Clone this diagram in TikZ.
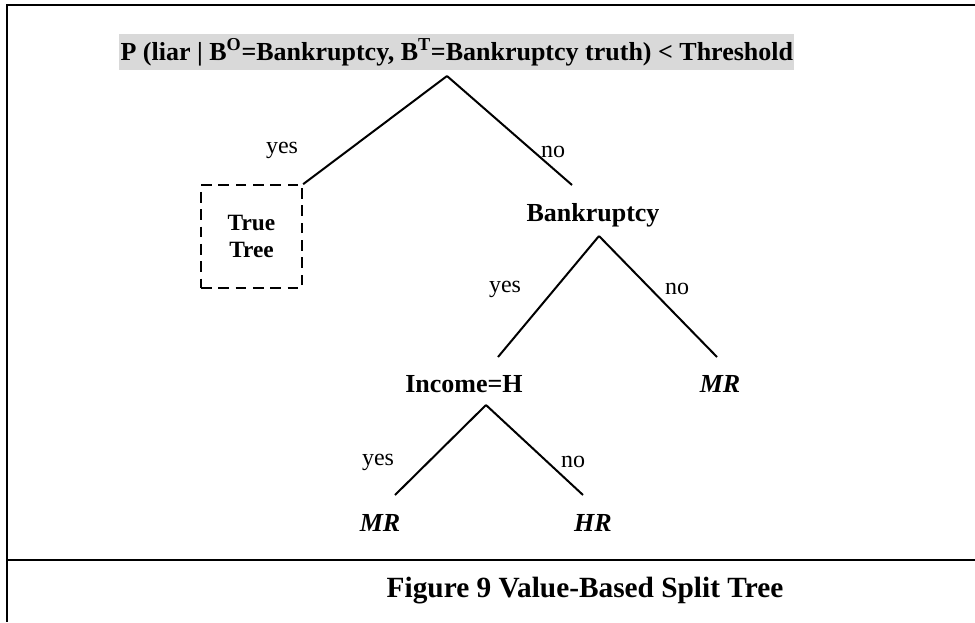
\documentclass[tikz,border=0pt]{standalone}
\usepackage{fontspec}
\setmainfont{Liberation Serif}
\begin{document}
\begin{tikzpicture}[x=0.75pt,y=-0.75pt,
  lbl/.style={font=\fontsize{18}{20}\selectfont, inner sep=0pt},
  bnode/.style={font=\fontsize{19.5}{22}\selectfont\bfseries, inner sep=0pt},
  leaf/.style={font=\fontsize{19.5}{22}\selectfont\bfseries\itshape, inner sep=0pt},
  edge/.style={line width=1.5pt},
  frame/.style={line width=2pt}]
\useasboundingbox (0,0) rectangle (975,622);
% frame
\coordinate (ftl) at (7,5);
\coordinate (ftr) at (975,5);
\coordinate (fbl) at (7,622);
\coordinate (fml) at (7,560);
\coordinate (fmr) at (975,560);
\draw[frame] (ftr) -- (ftl) -- (fbl);
\draw[frame] (fml) -- (fmr);
% title
\node[fill=black!15, font=\fontsize{19.5}{22}\selectfont\bfseries, inner xsep=1pt, inner ysep=3pt, anchor=west] (root) at (119,52)
  {P (liar | B\textsuperscript{O}=Bankruptcy, B\textsuperscript{T}=Bankruptcy truth) < Threshold};
\coordinate (r0) at (447,76);
\coordinate (r1) at (572,185);
% true tree
\node[draw, line width=1.5pt, dash pattern=on 8pt off 5pt, minimum width=76pt, minimum height=77pt, inner sep=0pt,
  align=center, font=\fontsize{17.5}{20.5}\selectfont\bfseries] (tt) at (251.5,236.5) {True\\Tree};
\draw[edge] (r0) -- (tt.north east);
\draw[edge] (r0) -- (r1);
\node[lbl] (y1) at (282,150) {yes};
\node[lbl] (n1) at (553,152) {no};
% Bankruptcy
\node[bnode] (bk) at (593,215) {Bankruptcy};
\coordinate (b0) at (599,236);
\coordinate (b1) at (498,357);
\coordinate (b2) at (717,357);
\draw[edge] (b0) -- (b1);
\draw[edge] (b0) -- (b2);
\node[lbl] (y2) at (505,289) {yes};
\node[lbl] (n2) at (677,289) {no};
\node[leaf] (mr1) at (720,384) {MR};
% Income
\node[bnode] (inc) at (464,384) {Income=H};
\coordinate (i0) at (486,405);
\coordinate (i1) at (395,495);
\coordinate (i2) at (583,495);
\draw[edge] (i0) -- (i1);
\draw[edge] (i0) -- (i2);
\node[lbl] (y3) at (378,462) {yes};
\node[lbl] (n3) at (573,462) {no};
\node[leaf] (mr2) at (380,523) {MR};
\node[leaf] (hr) at (593,523) {HR};
% caption
\node[font=\fontsize{22}{25}\selectfont\bfseries, inner sep=0pt] (cap) at (585,591) {Figure 9 Value-Based Split Tree};
\end{tikzpicture}
\end{document}
